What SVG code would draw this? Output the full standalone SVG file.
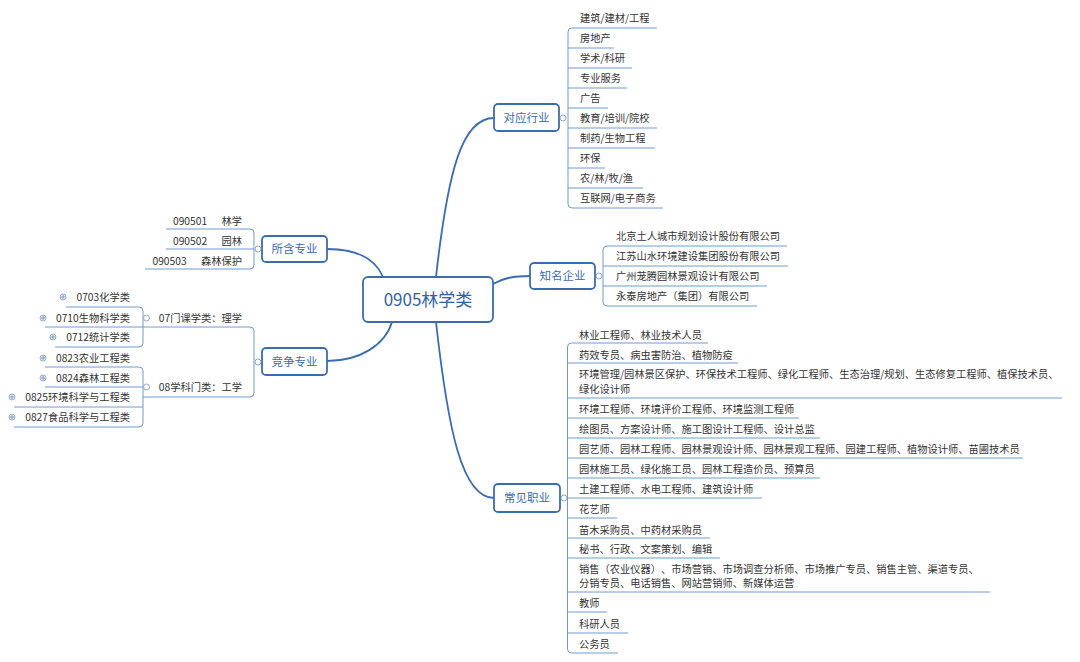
<svg xmlns="http://www.w3.org/2000/svg" width="1080" height="662" viewBox="0 0 1080 662">
<style>
.bg{fill:#ffffff}
.box{fill:#ffffff;stroke:#3a6db0;stroke-width:1.8}
.ntx{font-family:"Noto Sans CJK SC","Noto Sans",sans-serif;font-size:11.5px;fill:#3a6cb0;text-anchor:middle}
.ctx{font-family:"Noto Sans CJK SC","Noto Sans",sans-serif;font-size:17px;fill:#2f62a8;text-anchor:middle}
.lf{font-family:"Noto Sans CJK SC","Noto Sans",sans-serif;font-size:10.25px;fill:#333333;text-spacing-trim:space-all}
.lr{text-anchor:end}
.ul{fill:none;stroke:#6e9ad0;stroke-width:1}
.main{fill:none;stroke:#3a6db0;stroke-width:1.8}
.col{fill:#ffffff;stroke:#8fa8c8;stroke-width:1}
.exp{fill:#e9eef5;stroke:#9aaecb;stroke-width:1}
.pl{stroke:#7f95b5;stroke-width:0.9}
</style>
<rect class="bg" x="0" y="0" width="1080" height="662"/>

<g id="connectors">
<path class="main" d="M436,277 C448,170 462,118 494,118"/>
<path class="main" d="M493,284 C505,278 512,276 530,276"/>
<path class="main" d="M436,322 C448,430 462,498 494,498"/>
<path class="main" d="M383,277 C375,258 355,249 327,249"/>
<path class="main" d="M392,322 C385,345 360,361 327,361"/>
<!-- 对应行业 leaves -->
<path class="ul" d="M657,28 H572 Q568,28 568,32 V204 Q568,208 572,208 H663"/>
<path class="ul" d="M568,48 H614 M568,68 H632 M568,88 H627 M568,108 H608 M568,128 H657 M568,148 H655 M568,168 H605 M568,188 H643"/>
<!-- 知名企业 leaves -->
<path class="ul" d="M787,246 H607 Q603,246 603,250 V302 Q603,306 607,306 H757"/>
<path class="ul" d="M603,266 H788 M603,286 H767"/>
<!-- 常见职业 leaves -->
<path class="ul" d="M708,343 H571.5 Q567.5,343 567.5,347 V649 Q567.5,653 571.5,653 H618"/>
<path class="ul" d="M567.5,363 H738 M567.5,398 H1062 M567.5,418 H799 M567.5,438 H820 M567.5,458 H1023 M567.5,478 H820 M567.5,498 H762 M567.5,518 H617 M567.5,538 H710 M567.5,558 H720 M567.5,592 H990 M567.5,612 H607 M567.5,633 H628"/>
<!-- 所含专业 leaves -->
<path class="ul" d="M166,229 H250 Q254,229 254,233 V265 Q254,269 250,269 H145"/>
<path class="ul" d="M254,249 H166"/>
<!-- 竞争专业 -->
<path class="ul" d="M143,327 H250 Q254,327 254,331 V393 Q254,397 250,397 H143"/>
<path class="ul" d="M66,307 H139 Q143,307 143,311 V343 Q143,347 139,347 H55"/>
<path class="ul" d="M45,327 H143"/>
<path class="ul" d="M45,367 H139 Q143,367 143,371 V423 Q143,427 139,427 H14"/>
<path class="ul" d="M45,387 H143 M14,407 H143"/>
</g>

<g id="center">
<rect class="box" x="363" y="277" width="130" height="45" rx="5" stroke-width="2.2"/>
<text class="ctx" x="428" y="305.5">0905林学类</text>
</g>

<g id="n-hangye">
<rect class="box" x="494" y="104" width="65" height="27" rx="4"/>
<text class="ntx" x="526.5" y="121.5">对应行业</text>
<circle class="col" cx="563" cy="118" r="3"/>
<text class="lf" x="580" y="22">建筑/建材/工程</text>
<text class="lf" x="580" y="42">房地产</text>
<text class="lf" x="580" y="62">学术/科研</text>
<text class="lf" x="580" y="82">专业服务</text>
<text class="lf" x="580" y="102">广告</text>
<text class="lf" x="580" y="122">教育/培训/院校</text>
<text class="lf" x="580" y="142">制药/生物工程</text>
<text class="lf" x="580" y="162">环保</text>
<text class="lf" x="580" y="182">农/林/牧/渔</text>
<text class="lf" x="580" y="202">互联网/电子商务</text>
</g>

<g id="n-qiye">
<rect class="box" x="530" y="263" width="65" height="26" rx="4"/>
<text class="ntx" x="562.5" y="280">知名企业</text>
<circle class="col" cx="599" cy="276" r="3"/>
<text class="lf" x="616" y="240">北京土人城市规划设计股份有限公司</text>
<text class="lf" x="616" y="260">江苏山水环境建设集团股份有限公司</text>
<text class="lf" x="616" y="280">广州茏腾园林景观设计有限公司</text>
<text class="lf" x="616" y="300">永泰房地产（集团）有限公司</text>
</g>

<g id="n-zhiye">
<rect class="box" x="494" y="484" width="66" height="28" rx="4"/>
<text class="ntx" x="527" y="502">常见职业</text>
<circle class="col" cx="564" cy="498" r="3"/>
<text class="lf" x="579" y="338.5">林业工程师、林业技术人员</text>
<text class="lf" x="579" y="358.5">药效专员、病虫害防治、植物防疫</text>
<text class="lf" x="579" y="377.5">环境管理/园林景区保护、环保技术工程师、绿化工程师、生态治理/规划、生态修复工程师、植保技术员、</text>
<text class="lf" x="579" y="393">绿化设计师</text>
<text class="lf" x="579" y="413">环境工程师、环境评价工程师、环境监测工程师</text>
<text class="lf" x="579" y="433">绘图员、方案设计师、施工图设计工程师、设计总监</text>
<text class="lf" x="579" y="453">园艺师、园林工程师、园林景观设计师、园林景观工程师、园建工程师、植物设计师、苗圃技术员</text>
<text class="lf" x="579" y="473">园林施工员、绿化施工员、园林工程造价员、预算员</text>
<text class="lf" x="579" y="493">土建工程师、水电工程师、建筑设计师</text>
<text class="lf" x="579" y="513">花艺师</text>
<text class="lf" x="579" y="533.5">苗木采购员、中药材采购员</text>
<text class="lf" x="579" y="553">秘书、行政、文案策划、编辑</text>
<text class="lf" x="579" y="573">销售（农业仪器）、市场营销、市场调查分析师、市场推广专员、销售主管、渠道专员、</text>
<text class="lf" x="579" y="587">分销专员、电话销售、网站营销师、新媒体运营</text>
<text class="lf" x="579" y="607">教师</text>
<text class="lf" x="579" y="627.5">科研人员</text>
<text class="lf" x="579" y="647.5">公务员</text>
</g>

<g id="n-zhuanye">
<rect class="box" x="262" y="236" width="65" height="26" rx="4"/>
<text class="ntx" x="294.5" y="253">所含专业</text>
<circle class="col" cx="258" cy="249" r="3"/>
<text class="lf lr" x="242" y="225" style="white-space:pre;word-spacing:1.3px">090501    林学</text>
<text class="lf lr" x="242" y="245" style="white-space:pre;word-spacing:1.3px">090502    园林</text>
<text class="lf lr" x="242" y="265" style="white-space:pre;word-spacing:1.3px">090503    森林保护</text>
</g>

<g id="n-jingzheng">
<rect class="box" x="262" y="348" width="65" height="27" rx="4"/>
<text class="ntx" x="294.5" y="365.5">竞争专业</text>
<circle class="col" cx="258" cy="362" r="3"/>
</g>

<g id="n-lixue">
<text class="lf lr" x="242" y="322">07门课学类：理学</text>
<circle class="col" cx="146.5" cy="318" r="3"/>
<text class="lf lr" x="130" y="301">0703化学类</text>
<text class="lf lr" x="130" y="322">0710生物科学类</text>
<text class="lf lr" x="130" y="341">0712统计学类</text>
<g><circle class="exp" cx="63" cy="297" r="3"/><path class="pl" d="M61,297 H65 M63,295 V299"/></g>
<g><circle class="exp" cx="43" cy="318" r="3"/><path class="pl" d="M41,318 H45 M43,316 V320"/></g>
<g><circle class="exp" cx="53" cy="337" r="3"/><path class="pl" d="M51,337 H55 M53,335 V339"/></g>
</g>

<g id="n-gongxue">
<text class="lf lr" x="242" y="391">08学科门类：工学</text>
<circle class="col" cx="146.5" cy="387" r="3"/>
<text class="lf lr" x="130" y="362">0823农业工程类</text>
<text class="lf lr" x="130" y="382">0824森林工程类</text>
<text class="lf lr" x="130" y="401">0825环境科学与工程类</text>
<text class="lf lr" x="130" y="421">0827食品科学与工程类</text>
<g><circle class="exp" cx="43" cy="358" r="3"/><path class="pl" d="M41,358 H45 M43,356 V360"/></g>
<g><circle class="exp" cx="43" cy="378" r="3"/><path class="pl" d="M41,378 H45 M43,376 V380"/></g>
<g><circle class="exp" cx="12" cy="397" r="3"/><path class="pl" d="M10,397 H14 M12,395 V399"/></g>
<g><circle class="exp" cx="12" cy="417" r="3"/><path class="pl" d="M10,417 H14 M12,415 V419"/></g>
</g>
</svg>
